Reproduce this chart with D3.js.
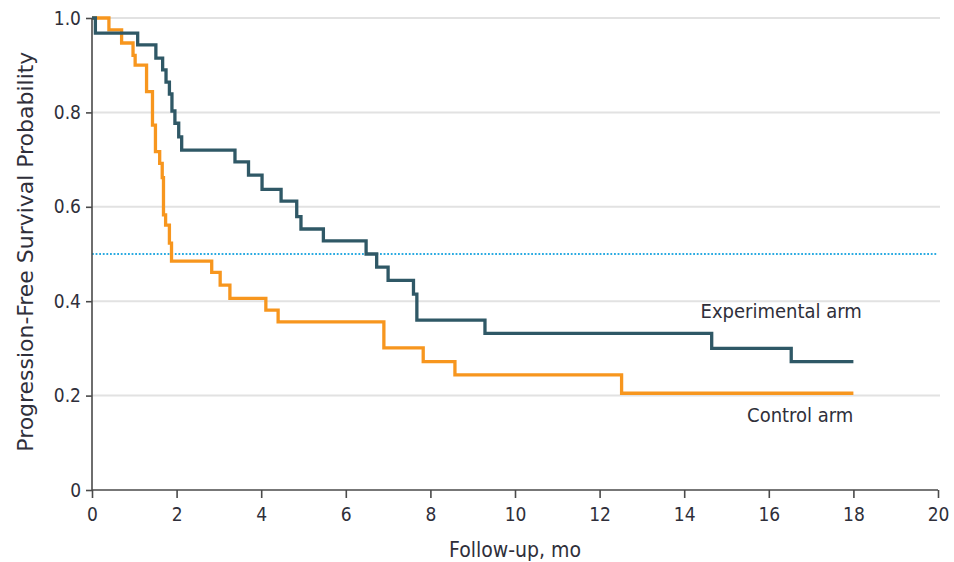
<!DOCTYPE html>
<html>
<head>
<meta charset="utf-8">
<script src="https://cdn.jsdelivr.net/npm/d3@7"></script>
<style>
  body { margin: 0; background: #fff; }
  svg text { font-family: "DejaVu Sans Condensed", "Liberation Sans Narrow", sans-serif; fill: #2f2f3a; }
</style>
</head>
<body>
<div id="chart"></div>
<script>
// Kaplan-Meier steps: [month, probability after the drop]
var experimental = [
  [0, 1.0], [0.08, 0.968], [1.08, 0.943], [1.51, 0.915], [1.67, 0.89],
  [1.75, 0.864], [1.83, 0.839], [1.89, 0.803], [1.96, 0.777], [2.05, 0.748],
  [2.12, 0.72], [3.38, 0.695], [3.7, 0.667], [4.02, 0.637], [4.47, 0.612],
  [4.84, 0.579], [4.94, 0.553], [5.47, 0.528], [6.48, 0.5], [6.73, 0.472],
  [7.0, 0.444], [7.6, 0.415], [7.68, 0.36], [9.29, 0.332], [14.65, 0.3],
  [16.53, 0.272], [18, 0.272]
];
var control = [
  [0, 1.0], [0.4, 0.975], [0.7, 0.947], [0.97, 0.921], [1.02, 0.9],
  [1.29, 0.844], [1.43, 0.773], [1.5, 0.717], [1.6, 0.692], [1.66, 0.662],
  [1.69, 0.583], [1.74, 0.561], [1.83, 0.523], [1.88, 0.485], [2.83, 0.461],
  [3.03, 0.434], [3.26, 0.406], [4.11, 0.381], [4.4, 0.356], [6.9, 0.301],
  [7.83, 0.272], [8.58, 0.244], [12.52, 0.205], [18, 0.205]
];
var xTicks = [0, 2, 4, 6, 8, 10, 12, 14, 16, 18, 20];
var yTicks = [0, 0.2, 0.4, 0.6, 0.8, 1.0];
var medianLine = 0.5;

var width = 954, height = 562,
  margin = {top: 18, right: 16, bottom: 72, left: 92},
  w = width - margin.left - margin.right,
  h = height - margin.top - margin.bottom;

var svg = d3.select('#chart').append('svg')
  .attr('width', width)
  .attr('height', height);

var g = svg.append('g')
  .attr('transform', 'translate(' + margin.left + ',' + margin.top + ')');

var x = d3.scaleLinear().domain([0, 20]).range([0, w]);
var y = d3.scaleLinear().domain([0, 1]).range([h, 0]);

// grid
g.append('g')
  .selectAll('line')
  .data(yTicks.filter(function(d) { return d > 0; }))
  .enter()
  .append('line')
  .attr('x1', 0)
  .attr('x2', x(20) + 2)
  .attr('y1', function(d) { return y(d); })
  .attr('y2', function(d) { return y(d); })
  .style('stroke', '#e2e2e2')
  .style('stroke-width', 2);

// median reference
g.append('line')
  .attr('x1', 0)
  .attr('x2', x(20))
  .attr('y1', y(medianLine))
  .attr('y2', y(medianLine))
  .style('stroke', '#29aae1')
  .style('stroke-width', 1.8)
  .style('stroke-dasharray', '1.8,1.8');

var line = d3.line()
  .x(function(d) { return x(d[0]); })
  .y(function(d) { return y(d[1]); })
  .curve(d3.curveStepAfter);

g.append('path')
  .datum(control)
  .attr('d', line)
  .style('fill', 'none')
  .style('stroke', '#f7961e')
  .style('stroke-width', 3.3);

g.append('path')
  .datum(experimental)
  .attr('d', line)
  .style('fill', 'none')
  .style('stroke', '#2f5866')
  .style('stroke-width', 3.3);

// axes
var xAxis = g.append('g')
  .attr('transform', 'translate(0,' + h + ')')
  .call(d3.axisBottom(x).tickValues(xTicks).tickSize(8).tickPadding(10)
    .tickFormat(d3.format('d')));

var yAxis = g.append('g')
  .call(d3.axisLeft(y).tickValues(yTicks).tickSize(6).tickPadding(5)
    .tickFormat(function(d) { return d === 0 ? '0' : d3.format('.1f')(d); }));

[xAxis, yAxis].forEach(function(a) {
  a.select('.domain').style('stroke', '#4a4a4a').style('stroke-width', 1.6);
  a.selectAll('.tick line').style('stroke', '#4a4a4a').style('stroke-width', 1.6);
  a.selectAll('.tick text')
    .style('font-size', '19px')
    .style('font-family', '"DejaVu Sans Condensed", "Liberation Sans Narrow", sans-serif')
    .style('fill', '#2f2f3a');
});
yAxis.select('.domain').attr('d', 'M0,' + h + 'V0');
xAxis.select('.domain').attr('d', 'M0,0H' + w);

// titles
svg.append('text')
  .attr('x', margin.left + x(10))
  .attr('y', 557)
  .attr('text-anchor', 'middle')
  .style('font-size', '21px')
  .text('Follow-up, mo');

svg.append('text')
  .attr('transform', 'translate(33,' + (margin.top + y(0.505)) + ') rotate(-90)')
  .attr('text-anchor', 'middle')
  .style('font-size', '22px')
  .attr('textLength', 400)
  .attr('lengthAdjust', 'spacingAndGlyphs')
  .text('Progression-Free Survival Probability');

// series labels
g.append('text')
  .attr('x', x(18.2))
  .attr('y', y(0.364))
  .attr('text-anchor', 'end')
  .style('font-size', '20px')
  .text('Experimental arm');

g.append('text')
  .attr('x', x(18))
  .attr('y', y(0.145))
  .attr('text-anchor', 'end')
  .style('font-size', '20px')
  .text('Control arm');
</script>
</body>
</html>
